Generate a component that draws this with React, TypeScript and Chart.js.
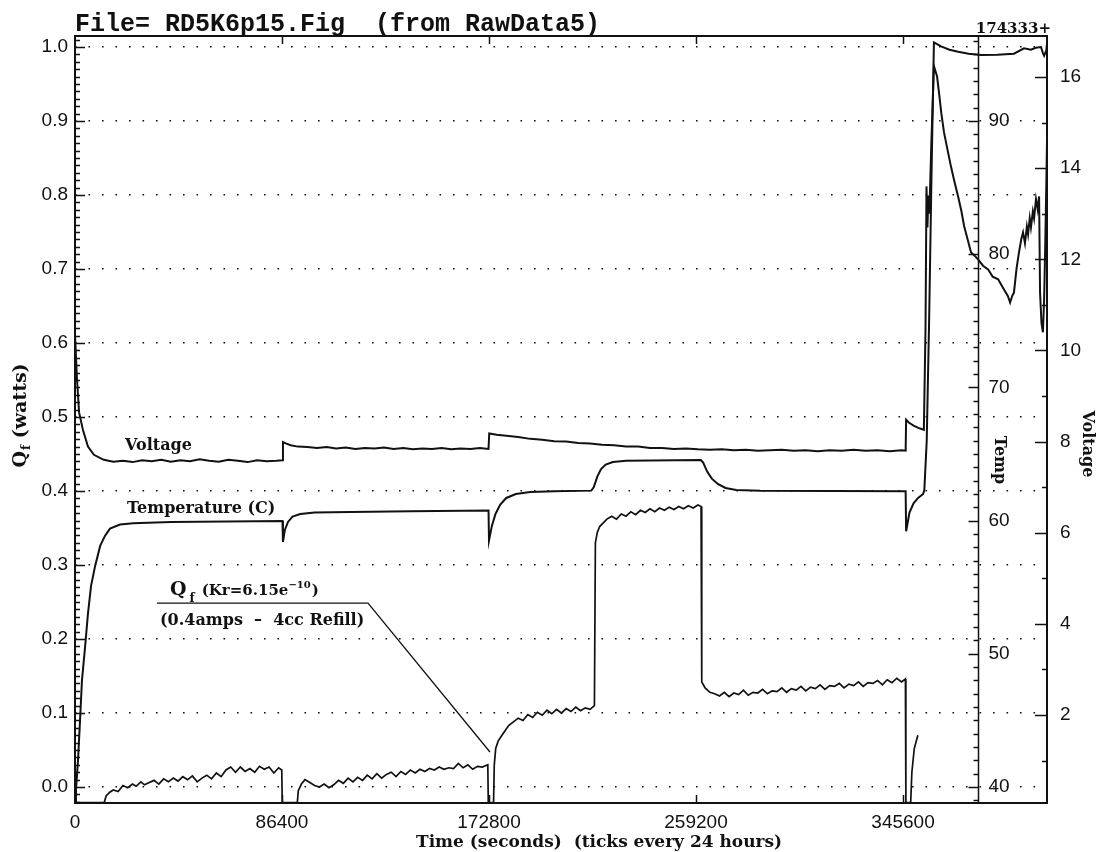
import { useEffect, useRef } from "react";
import { Chart, registerables } from "chart.js";

Chart.register(...registerables);

// ---- axes -------------------------------------------------------------
const dayTicks = [0, 86400, 172800, 259200, 345600];
const timeEnd = 405700;
const tempAxisAt = 376900;

const qTicks = [0, 0.1, 0.2, 0.3, 0.4, 0.5, 0.6, 0.7, 0.8, 0.9, 1.0];
const qRange = [-0.0216, 1.0149];
const tempTicks = [40, 50, 60, 70, 80, 90];
const tempRange = [38.8, 96.38];
const voltTicks = [2, 4, 6, 8, 10, 12, 14, 16];
const voltRange = [0.07, 16.9];

// ---- Q_f (watts) : [seconds, watts] ---------------------------------
const qfDay1: [number, number][] = [
  [0, -0.021], [12200, -0.021], [13000, -0.012], [14500, -0.007], [16000, -0.004], [18000, -0.006],
  [20000, 0.002], [22000, -0.001], [24000, 0.004], [25500, 0.001], [27500, 0.007], [29000, 0.003],
  [31000, 0.006], [33000, 0.009], [35000, 0.004], [37000, 0.011], [39000, 0.007], [41000, 0.012],
  [43000, 0.008], [45000, 0.014], [47000, 0.010], [49000, 0.015], [51000, 0.007], [53000, 0.012],
  [55000, 0.016], [57000, 0.011], [59000, 0.019], [61000, 0.014], [63000, 0.023], [65000, 0.027],
  [67000, 0.020], [69000, 0.027], [71000, 0.021], [73000, 0.025], [75000, 0.020], [77000, 0.028],
  [79000, 0.024], [81000, 0.027], [83000, 0.019], [85000, 0.026], [86300, 0.023], [86500, -0.021],
  [92800, -0.021],
];
const qfDay2: [number, number][] = [
  [93200, -0.005], [94500, 0.004], [96000, 0.010], [98000, 0.006], [100000, 0.002], [102000, 0.000],
  [104000, 0.004], [106000, -0.001], [108000, 0.003], [110000, 0.009], [112000, 0.005], [114000, 0.012],
  [116000, 0.007], [118000, 0.013], [120000, 0.009], [122000, 0.016], [124000, 0.011], [126000, 0.018],
  [128000, 0.012], [130000, 0.017], [132000, 0.020], [134000, 0.014], [136000, 0.021], [138000, 0.017],
  [140000, 0.023], [142000, 0.019], [144000, 0.024], [146000, 0.021], [148000, 0.025], [150000, 0.023],
  [152000, 0.027], [154000, 0.024], [156000, 0.026], [158000, 0.025], [160000, 0.032], [162000, 0.026],
  [164000, 0.030], [166000, 0.024], [168000, 0.028], [170000, 0.027], [172300, 0.030], [172500, -0.021],
  [174700, -0.021],
];
const qfDay3: [number, number][] = [
  [175000, 0.030], [175600, 0.052], [176600, 0.062], [178000, 0.069], [179500, 0.076], [181000, 0.083],
  [183000, 0.088], [185000, 0.093], [187000, 0.090], [189000, 0.098], [191000, 0.094], [193000, 0.101],
  [195000, 0.097], [197000, 0.104], [199000, 0.099], [201000, 0.105], [203000, 0.100], [205000, 0.106],
  [207000, 0.102], [209000, 0.108], [211000, 0.103], [213000, 0.107], [215000, 0.105], [216800, 0.110],
  [217200, 0.330], [218000, 0.344], [219000, 0.352], [220500, 0.357], [222000, 0.362], [224000, 0.366],
  [226000, 0.362], [228000, 0.369], [230000, 0.366], [232000, 0.372], [234000, 0.368], [236000, 0.374],
  [238000, 0.371], [240000, 0.376], [242000, 0.372], [244000, 0.377], [246000, 0.374], [248000, 0.378],
  [250000, 0.375], [252000, 0.379], [254000, 0.376], [256000, 0.380], [258000, 0.377], [260000, 0.381],
  [261300, 0.379],
];
const qfDay4: [number, number][] = [
  [261600, 0.142], [263000, 0.134], [265000, 0.128], [267000, 0.126], [269000, 0.123], [271000, 0.128],
  [273000, 0.122], [275000, 0.127], [277000, 0.125], [279000, 0.131], [281000, 0.124], [283000, 0.128],
  [285000, 0.127], [287000, 0.132], [289000, 0.126], [291000, 0.130], [293000, 0.129], [295000, 0.134],
  [297000, 0.128], [299000, 0.133], [301000, 0.131], [303000, 0.136], [305000, 0.130], [307000, 0.135],
  [309000, 0.133], [311000, 0.138], [313000, 0.132], [315000, 0.137], [317000, 0.136], [319000, 0.140],
  [321000, 0.134], [323000, 0.139], [325000, 0.137], [327000, 0.142], [329000, 0.136], [331000, 0.141],
  [333000, 0.140], [335000, 0.144], [337000, 0.138], [339000, 0.145], [341000, 0.141], [343000, 0.147],
  [345000, 0.142], [346600, 0.146], [346800, -0.021], [348800, -0.021], [349300, 0.020], [350300, 0.052],
  [351800, 0.070],
];

// ---- cell voltage : [seconds, volts] ---------------------------------
const voltDay1: [number, number][] = [
  [0, 10.35], [800, 9.4], [1700, 8.64], [3300, 8.26], [5400, 7.89], [7900, 7.71], [12000, 7.60],
  [16000, 7.56], [20000, 7.58], [24000, 7.55], [28000, 7.59], [32000, 7.57], [36000, 7.60], [40000, 7.56],
  [44000, 7.59], [48000, 7.57], [52000, 7.61], [56000, 7.58], [60000, 7.56], [64000, 7.60], [68000, 7.58],
  [72000, 7.55], [76000, 7.59], [80000, 7.57], [84000, 7.58], [86600, 7.59],
];
const voltDay2: [number, number][] = [
  [86800, 7.99], [88000, 7.96], [90000, 7.92], [93000, 7.89], [97000, 7.88], [101000, 7.86], [105000, 7.88],
  [109000, 7.85], [113000, 7.87], [117000, 7.84], [121000, 7.86], [125000, 7.85], [129000, 7.87],
  [133000, 7.84], [137000, 7.86], [141000, 7.83], [145000, 7.85], [149000, 7.84], [153000, 7.86],
  [157000, 7.83], [161000, 7.85], [165000, 7.84], [169000, 7.86], [172600, 7.84],
];
const voltDay3: [number, number][] = [
  [172900, 8.18], [176000, 8.15], [180000, 8.13], [185000, 8.10], [190000, 8.06], [195000, 8.04],
  [200000, 8.01], [205000, 8.00], [210000, 7.97], [215000, 7.96], [220000, 7.93], [225000, 7.92],
  [230000, 7.89], [235000, 7.89], [240000, 7.86], [245000, 7.86], [250000, 7.84], [255000, 7.85],
  [260000, 7.83], [265000, 7.82], [270000, 7.83], [275000, 7.81], [280000, 7.82], [285000, 7.80],
  [290000, 7.81], [295000, 7.82], [300000, 7.80], [305000, 7.81], [310000, 7.79], [315000, 7.81],
  [320000, 7.80], [325000, 7.82], [330000, 7.80], [335000, 7.81], [340000, 7.79], [345000, 7.81],
  [346700, 7.80],
];
const voltDay5: [number, number][] = [
  [346900, 8.48], [348000, 8.42], [350000, 8.35], [352000, 8.30], [354300, 8.26], [355000, 10.5],
  [355400, 13.6], [355800, 12.7], [356200, 13.4], [356600, 13.0], [357400, 14.5], [358500, 16.24],
  [359800, 16.02], [360600, 15.67], [361600, 15.2], [362700, 14.79], [364000, 14.45], [365600, 14.04],
  [367000, 13.72], [368600, 13.38], [370000, 13.05], [371100, 12.73], [372500, 12.45], [374000, 12.15],
  [375500, 12.08], [376900, 12.0], [379000, 11.86], [381100, 11.78], [383000, 11.62], [385300, 11.56],
  [387500, 11.36], [389400, 11.19], [390300, 11.05], [391200, 11.2], [391900, 11.27], [393000, 11.8],
  [394000, 12.15], [395000, 12.45], [395700, 12.59], [396500, 12.35], [397300, 12.72], [397800, 12.55],
  [398500, 12.9], [399000, 12.7], [399800, 13.05], [400300, 12.9], [401100, 13.32], [401800, 13.1],
  [402400, 13.38], [402800, 11.27], [403400, 10.6], [404000, 10.4], [404500, 11.12], [405000, 12.4],
  [405400, 13.6], [405700, 14.6],
];

// ---- cell temperature : [seconds, deg C] -----------------------------
const tempDay1: [number, number][] = [
  [0, 38.8], [417, 39.8], [1250, 42.0], [2100, 45.0], [2900, 48.0], [4200, 50.5], [5400, 53.0],
  [6700, 55.1], [8400, 56.6], [10500, 58.1], [12500, 58.85], [14600, 59.4], [18800, 59.7],
  [24300, 59.8], [40000, 59.9], [86600, 59.97],
];
const tempDay2: [number, number][] = [
  [86800, 58.4], [87600, 59.3], [88900, 59.9], [90800, 60.3], [94000, 60.5], [100000, 60.6],
  [115000, 60.65], [140000, 60.7], [172600, 60.75],
];
const tempDay3: [number, number][] = [
  [172800, 58.5], [174000, 59.6], [175500, 60.5], [177500, 61.2], [180000, 61.7], [184000, 62.0],
  [190000, 62.15], [200000, 62.2], [215500, 62.25], [216500, 62.5], [218000, 63.3], [219500, 63.85],
  [221500, 64.2], [224500, 64.4], [230000, 64.5], [261200, 64.55], [262200, 64.35], [263800, 63.7],
  [265800, 63.15], [268300, 62.75], [271500, 62.45], [276000, 62.3], [286000, 62.25], [346700, 62.2],
];
const tempDay5: [number, number][] = [
  [346900, 59.2], [348300, 60.6], [350000, 61.3], [351900, 61.7], [354000, 62.0], [354500, 62.3],
  [355500, 66], [356500, 75], [357500, 86], [358500, 95.9], [361500, 95.6], [365000, 95.35],
  [368600, 95.2], [373000, 95.05], [378200, 94.95], [385000, 94.97], [391900, 95.05], [396100, 95.45],
  [399000, 95.35], [401000, 95.5], [403200, 95.55], [404000, 95.1], [404500, 94.9], [405400, 95.3],
  [405700, 95.8],
];

const SERIF = '"DejaVu Serif", "Liberation Serif", serif';
const MONO = '"Liberation Mono", "DejaVu Sans Mono", monospace';
const SANS = '"Liberation Sans", Arial, sans-serif';
const INK = "#111";

const toPoints = (...parts: [number, number][][]) =>
  parts.flat().map(([x, y]) => ({ x, y }));

// frame, inward ticks, the temperature axis and all the lettering
const decorations = {
  id: "decorations",
  afterDatasetsDraw(chart: any) {
    const { ctx, chartArea: a, scales } = chart;
    const xs = scales.x, qs = scales.q, ts = scales.t, vs = scales.v;
    ctx.save();
    ctx.strokeStyle = INK;
    ctx.fillStyle = INK;

    ctx.lineWidth = 2;
    ctx.strokeRect(a.left, a.top, a.right - a.left, a.bottom - a.top);

    ctx.lineWidth = 1.5;
    ctx.beginPath();
    for (const d of dayTicks) {
      if (d === 0) continue;
      const px = Math.round(xs.getPixelForValue(d)) + 0.5;
      ctx.moveTo(px, a.bottom); ctx.lineTo(px, a.bottom - 8);
      ctx.moveTo(px, a.top); ctx.lineTo(px, a.top + 8);
    }
    for (let i = -2; i <= 101; i++) {
      const py = Math.round(qs.getPixelForValue(i / 100)) + 0.5;
      if (py < a.top || py > a.bottom) continue;
      const len = i % 10 === 0 ? 10 : 5;
      ctx.moveTo(a.left, py); ctx.lineTo(a.left + len, py);
    }
    const tx = Math.round(xs.getPixelForValue(tempAxisAt)) + 0.5;
    ctx.moveTo(tx, a.top); ctx.lineTo(tx, a.bottom);
    for (let deg = Math.ceil(ts.min); deg <= ts.max; deg++) {
      const py = Math.round(ts.getPixelForValue(deg)) + 0.5;
      const len = deg % 10 === 0 ? 10 : 5;
      ctx.moveTo(tx - len, py); ctx.lineTo(tx, py);
    }
    for (let v = 1; v <= 16; v++) {
      const py = Math.round(vs.getPixelForValue(v)) + 0.5;
      const len = v % 2 === 0 ? 12 : 5;
      ctx.moveTo(a.right - len, py); ctx.lineTo(a.right, py);
    }
    ctx.stroke();

    // temperature tick labels
    ctx.font = `19px ${SANS}`;
    ctx.textAlign = "left";
    ctx.textBaseline = "middle";
    for (const deg of tempTicks) ctx.fillText(String(deg), tx + 10, ts.getPixelForValue(deg));

    // heading
    ctx.textBaseline = "alphabetic";
    ctx.font = `bold 25px ${MONO}`;
    ctx.fillText("File= RD5K6p15.Fig  (from RawData5)", 75, 31);
    ctx.font = `bold 15px ${SERIF}`;
    ctx.textAlign = "right";
    ctx.fillText("174333+", a.right + 4, 33);

    // x axis title
    ctx.textAlign = "left";
    ctx.font = `bold 17px ${SERIF}`;
    ctx.fillText("Time (seconds)  (ticks every 24 hours)", 416, 847);

    // rotated titles on the right
    const vertical = (text: string, cx: number, cy: number) => {
      ctx.save();
      ctx.translate(cx, cy);
      ctx.rotate(Math.PI / 2);
      ctx.textAlign = "center";
      ctx.textBaseline = "middle";
      ctx.fillText(text, 0, 0);
      ctx.restore();
    };
    ctx.font = `bold 16px ${SERIF}`;
    vertical("Temp", 999, 460);
    vertical("Voltage", 1087, 444);

    // left title Q_f (watts)
    ctx.save();
    ctx.translate(19, 416);
    ctx.rotate(-Math.PI / 2);
    ctx.textAlign = "left";
    ctx.textBaseline = "alphabetic";
    const big = `bold 19px ${SERIF}`, sub = `bold 12px ${SERIF}`;
    ctx.font = big; const wQ = ctx.measureText("Q").width; const wRest = ctx.measureText(" (watts)").width;
    ctx.font = sub; const wf = ctx.measureText("f").width;
    const x0 = -(wQ + wf + wRest) / 2;
    ctx.font = big; ctx.fillText("Q", x0, 7);
    ctx.font = sub; ctx.fillText("f", x0 + wQ + 1, 11);
    ctx.font = big; ctx.fillText(" (watts)", x0 + wQ + wf + 1, 7);
    ctx.restore();

    // in-plot curve labels
    const X = (t: number) => xs.getPixelForValue(t);
    const Y = (q: number) => qs.getPixelForValue(q);
    ctx.font = `bold 16px ${SERIF}`;
    ctx.fillText("Voltage", X(20900), Y(0.4554));
    ctx.fillText("Temperature (C)", X(21700), Y(0.370));

    let cx = X(39650);
    const base = Y(0.2595);
    ctx.font = `bold 19px ${SERIF}`; ctx.fillText("Q", cx, base); cx += ctx.measureText("Q").width + 3;
    ctx.font = `bold 12px ${SERIF}`; ctx.fillText("f", cx, base + 7); cx += ctx.measureText("f").width + 7;
    ctx.font = `bold 15px ${SERIF}`; ctx.fillText("(Kr=6.15e", cx, base); cx += ctx.measureText("(Kr=6.15e").width;
    ctx.font = `bold 10px ${SERIF}`; ctx.fillText("\u221210", cx, base - 7); cx += ctx.measureText("\u221210").width + 1;
    ctx.font = `bold 15px ${SERIF}`; ctx.fillText(")", cx, base);

    ctx.lineWidth = 1.3;
    ctx.beginPath();
    ctx.moveTo(X(34200), Y(0.2486));
    ctx.lineTo(X(122300), Y(0.2486));
    ctx.lineTo(X(173200), Y(0.0473));
    ctx.stroke();
    ctx.font = `bold 16px ${SERIF}`;
    ctx.fillText("(0.4amps  \u2013  4cc Refill)", X(35500), Y(0.219));

    ctx.restore();
  },
};

export default function App() {
  const ref = useRef<HTMLCanvasElement>(null);

  useEffect(() => {
    const line = (data: { x: number; y: number }[], yAxisID: string, width: number) => ({
      data,
      yAxisID,
      borderColor: INK,
      borderWidth: width,
      pointRadius: 0,
      tension: 0,
      fill: false,
    });

    const chart = new Chart(ref.current as HTMLCanvasElement, {
      type: "line",
      data: {
        datasets: [
          { label: "Q_f", ...line(toPoints(qfDay1, qfDay2, qfDay3, qfDay4), "q", 1.7) },
          { label: "Voltage", ...line(toPoints(voltDay1, voltDay2, voltDay3, voltDay5), "v", 2) },
          { label: "Temperature", ...line(toPoints(tempDay1, tempDay2, tempDay3, tempDay5), "t", 2) },
        ] as any,
      },
      options: {
        responsive: false,
        animation: false,
        devicePixelRatio: 1,
        layout: { padding: { top: 36, left: 0, right: 0, bottom: 0 } },
        plugins: { legend: { display: false }, tooltip: { enabled: false }, title: { display: false } },
        scales: {
          x: {
            type: "linear",
            position: "bottom",
            min: 0,
            max: timeEnd,
            afterBuildTicks: (s: any) => { s.ticks = dayTicks.map((value) => ({ value })); },
            afterFit: (s: any) => { s.height = 49; },
            ticks: {
              autoSkip: false, maxRotation: 0, minRotation: 0, padding: 8, color: INK,
              font: { family: SANS, size: 19 },
              callback: (v: any) => String(v),
            },
            grid: { display: false, drawTicks: false },
            border: { display: false },
          },
          q: {
            type: "linear",
            position: "left",
            min: qRange[0],
            max: qRange[1],
            afterBuildTicks: (s: any) => { s.ticks = qTicks.map((value) => ({ value })); },
            afterFit: (s: any) => { s.width = 75; },
            ticks: {
              padding: 7, color: INK, font: { family: SANS, size: 19 },
              callback: (v: any) => Number(v).toFixed(1),
            },
            grid: { color: INK, lineWidth: 1.6, drawTicks: false },
            border: { display: false, dash: [1.6, 11.9] },
          },
          t: {
            type: "linear",
            display: false,
            min: tempRange[0],
            max: tempRange[1],
          },
          v: {
            type: "linear",
            position: "right",
            min: voltRange[0],
            max: voltRange[1],
            afterBuildTicks: (s: any) => { s.ticks = voltTicks.map((value) => ({ value })); },
            afterFit: (s: any) => { s.width = 52; },
            ticks: { padding: 13, color: INK, font: { family: SANS, size: 19 }, callback: (v: any) => String(v) },
            grid: { display: false, drawTicks: false },
            border: { display: false },
          },
        },
      } as any,
      plugins: [decorations],
    });
    return () => chart.destroy();
  }, []);

  return (
    <div style={{ position: "absolute", left: 0, top: 0, width: 1099, height: 852, background: "#fff" }}>
      <canvas ref={ref} width={1099} height={852} style={{ display: "block", width: 1099, height: 852 }} />
    </div>
  );
}
